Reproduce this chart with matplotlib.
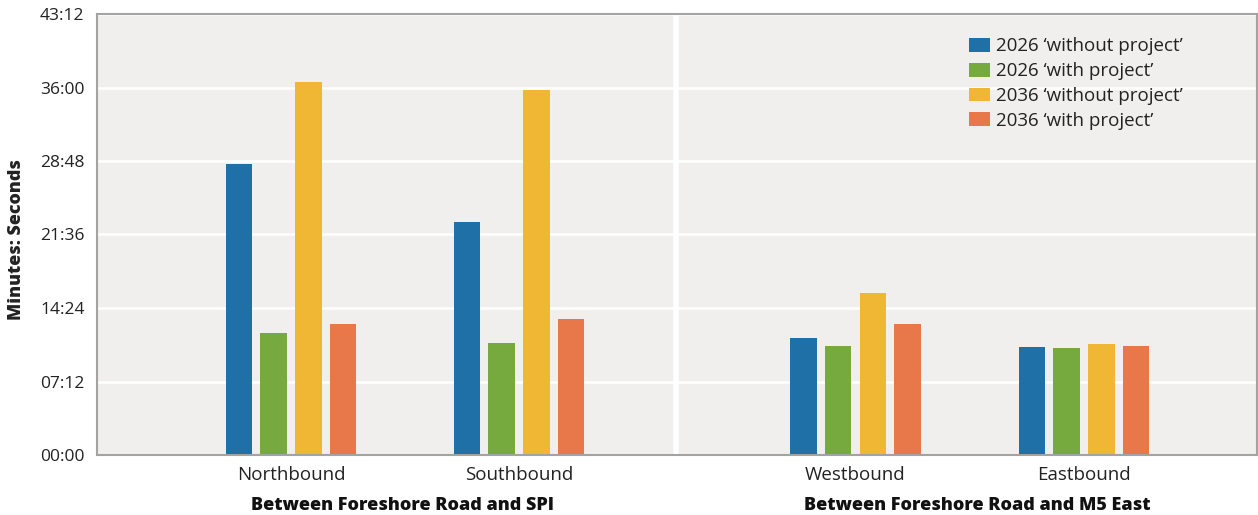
import matplotlib
matplotlib.use("Agg")
import matplotlib.pyplot as plt
from matplotlib.ticker import FuncFormatter, MultipleLocator
import numpy as np

plt.rcParams['font.family'] = ['Open Sans', 'DejaVu Sans']

directions = ["Northbound", "Southbound", "Westbound", "Eastbound"]
sections = ["Between Foreshore Road and SPI", "Between Foreshore Road and M5 East"]
series_names = ["2026 \u2018without project\u2019", "2026 \u2018with project\u2019",
                "2036 \u2018without project\u2019", "2036 \u2018with project\u2019"]
# travel times in minutes
without_2026 = [28.5, 22.8, 11.5, 10.55]
with_2026 = [12.0, 10.95, 10.65, 10.5]
without_2036 = [36.5, 35.8, 15.9, 10.9]
with_2036 = [12.85, 13.35, 12.8, 10.7]
colors = ["#1f70a6", "#76aa3f", "#efb734", "#e8784a"]

series = [without_2026, with_2026, without_2036, with_2036]

fig = plt.figure(figsize=(12.58, 5.15), dpi=100)
ax = fig.add_axes([97/1258, 60/515, 1160/1258, 441/515])
ax.set_facecolor("#f0efee")

group_x = np.array([0.0, 1.0, 2.476, 3.478])
width = 0.116
offsets = np.array([-1.5, -0.5, 0.5, 1.5]) * 0.152

for vals, name, col, off in zip(series, series_names, colors, offsets):
    ax.bar(group_x + off, vals, width=width, color=col, label=name, zorder=3)

ax.set_xlim(-0.851, 4.237)
ax.set_ylim(0, 43.2)
ax.yaxis.set_major_locator(MultipleLocator(7.2))

def mmss(v, pos):
    total = int(round(v * 60))
    return f"{total // 60:02d}:{total % 60:02d}"

ax.yaxis.set_major_formatter(FuncFormatter(mmss))
ax.grid(axis='y', color='white', linewidth=1.8, zorder=1)
ax.axvline((1.0 + 2.476) / 2 - 0.05, color='white', linewidth=4, zorder=2)

ax.set_xticks(group_x)
ax.set_xticklabels(directions)
ax.tick_params(axis='x', length=0, pad=8, labelsize=13.5, labelcolor='#222222')
ax.tick_params(axis='y', length=0, pad=9, labelsize=12.5, labelcolor='#222222')

for s in ax.spines.values():
    s.set_color('#a3a3a3')
    s.set_linewidth(1.5)
    s.set_zorder(4)

label_shift = [-0.01, 0.035]
for i, sec in enumerate(sections):
    cx = (group_x[2 * i] + group_x[2 * i + 1]) / 2 + label_shift[i]
    ax.text(cx, -0.115, sec, transform=ax.get_xaxis_transform(), ha='center', va='center',
            fontsize=13, fontweight='heavy', color='#111111')

fig.text(17/1258, 1 - 240/515, "Minutes: Seconds", rotation=90, ha='center', va='center',
         fontsize=12.9, fontweight='heavy', color='#222222')

leg = ax.legend(loc='upper left', bbox_to_anchor=((961-97)/1160, 1 - 16/441), frameon=False,
                fontsize=13.5, handlelength=1.12, handleheight=0.75, handletextpad=0.35,
                labelspacing=0.36, borderaxespad=0)
for t in leg.get_texts():
    t.set_color('#222222')

fig.savefig("out.png", dpi=100)
